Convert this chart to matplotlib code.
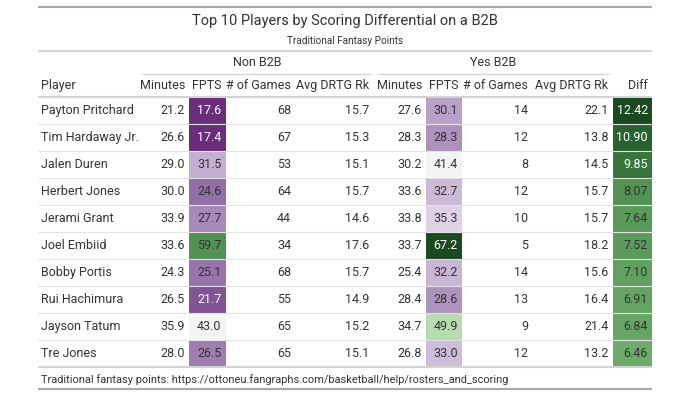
import numpy as np
import matplotlib
matplotlib.use("Agg")
import matplotlib.pyplot as plt
from matplotlib.patches import Rectangle
from matplotlib.colors import TwoSlopeNorm, Normalize, LinearSegmentedColormap, to_rgb

plt.rcParams['font.family'] = ['Roboto', 'DejaVu Sans']

players = ["Payton Pritchard", "Tim Hardaway Jr.", "Jalen Duren", "Herbert Jones", "Jerami Grant",
           "Joel Embiid", "Bobby Portis", "Rui Hachimura", "Jayson Tatum", "Tre Jones"]
non_minutes = [21.2, 26.6, 29.0, 30.0, 33.9, 33.6, 24.3, 26.5, 35.9, 28.0]
non_fpts = [17.6, 17.4, 31.5, 24.6, 27.7, 59.7, 25.1, 21.7, 43.0, 26.5]
non_games = [68, 67, 53, 64, 44, 34, 68, 55, 65, 65]
non_drtg = [15.7, 15.3, 15.1, 15.7, 14.6, 17.6, 15.7, 14.9, 15.2, 15.1]
yes_minutes = [27.6, 28.3, 30.2, 33.6, 33.8, 33.7, 25.4, 28.4, 34.7, 26.8]
yes_fpts = [30.1, 28.3, 41.4, 32.7, 35.3, 67.2, 32.2, 28.6, 49.9, 33.0]
yes_games = [14, 12, 8, 12, 10, 5, 14, 13, 9, 12]
yes_drtg = [22.1, 13.8, 14.5, 15.7, 15.7, 18.2, 15.6, 16.4, 21.4, 13.2]
diff = [12.42, 10.90, 9.85, 8.07, 7.64, 7.52, 7.10, 6.91, 6.84, 6.46]

headers = ["Player", "Minutes", "FPTS", "# of Games", "Avg DRTG Rk",
           "Minutes", "FPTS", "# of Games", "Avg DRTG Rk", "Diff"]

title = "Top 10 Players by Scoring Differential on a B2B"
subtitle = "Traditional Fantasy Points"
footer = "Traditional fantasy points: https://ottoneu.fangraphs.com/basketball/help/rosters_and_scoring"

# muted purple-green diverging palette
cmap = LinearSegmentedColormap.from_list("prgn_muted", [
    (0.0, "#4a1858"), (0.1, "#6b2c7c"), (0.2, "#8c66a2"), (0.3, "#b9a0c7"),
    (0.4, "#e4d9ea"), (0.5, "#f7f7f7"), (0.6, "#d4ecd0"), (0.7, "#9fcf98"),
    (0.8, "#68a866"), (0.9, "#3a7a3e"), (1.0, "#1a4a1f")])
fpts_norm = TwoSlopeNorm(vmin=11.2, vcenter=42.3, vmax=67.2)
diff_norm = Normalize(vmin=-15.96, vmax=12.42)

# column layout in pixels
edges = [38, 140, 189, 225.5, 295, 373, 426, 462, 532, 612.5, 652]
x0, x1 = edges[0], edges[-1]
row_top = 97
row_h = 27
n = len(players)
txt = "#333333"


def text_color(c):
    r, g, b = [v / 12.92 if v <= 0.04045 else ((v + 0.055) / 1.055) ** 2.4 for v in to_rgb(c)]
    lum = 0.2126 * r + 0.7152 * g + 0.0722 * b
    return "white" if lum < 0.179 else txt


fig = plt.figure(figsize=(6.9, 4.07), dpi=100)
ax = fig.add_axes([0, 0, 1, 1])
ax.set_xlim(0, 690)
ax.set_ylim(407, 0)
ax.axis("off")

fs = 9.0
ax.text((x0 + x1) / 2, 21, title, ha="center", va="center", fontsize=10.5, color=txt)
ax.text((x0 + x1) / 2, 40.5, subtitle, ha="center", va="center", fontsize=7.2, color=txt)

ax.hlines(7, x0, x1, color="#a8a8a8", lw=1.5)
ax.hlines(50.5, x0, x1, color="#d3d3d3", lw=1.5)

# spanners
ax.text(257, 62.5, "Non B2B", ha="center", va="center", fontsize=fs, color=txt)
ax.text(493.5, 62.5, "Yes B2B", ha="center", va="center", fontsize=fs, color=txt)
ax.hlines(73.5, 142, 372, color="#d3d3d3", lw=0.9)
ax.hlines(73.5, 378, 609, color="#d3d3d3", lw=0.9)

# column headers
for j, h in enumerate(headers):
    if j == 0:
        ax.text(edges[0] + 3, 85.5, h, ha="left", va="center", fontsize=fs, color=txt)
    else:
        ax.text(edges[j + 1] - 4, 85.5, h, ha="right", va="center", fontsize=fs, color=txt)

cols = [non_minutes, non_fpts, non_games, non_drtg, yes_minutes, yes_fpts, yes_games, yes_drtg, diff]
fmts = ["{:.1f}", "{:.1f}", "{:d}", "{:.1f}", "{:.1f}", "{:.1f}", "{:d}", "{:.1f}", "{:.2f}"]

for i in range(n):
    yt = row_top + i * row_h
    yc = yt + row_h / 2
    ax.text(edges[0] + 3, yc, players[i], ha="left", va="center", fontsize=fs, color=txt)
    for j, (vals, f) in enumerate(zip(cols, fmts)):
        v = vals[i]
        color = txt
        if j in (1, 5):
            bg = cmap(fpts_norm(v))
        elif j == 8:
            bg = cmap(diff_norm(v))
        else:
            bg = None
        if bg is not None:
            ax.add_patch(Rectangle((edges[j + 1], yt), edges[j + 2] - edges[j + 1], row_h,
                                   facecolor=bg, edgecolor="none", zorder=1))
            color = text_color(bg)
        ax.text(edges[j + 2] - 4, yc, f.format(v), ha="right", va="center", fontsize=fs,
                color=color, zorder=3)
    if i > 0:
        ax.hlines(yt, x0, x1, color="#e3e3e3", lw=0.8, zorder=2)

ax.hlines(row_top, x0, x1, color="#d3d3d3", lw=1.5, zorder=2)
ax.hlines(row_top + n * row_h, x0, x1, color="#d3d3d3", lw=1.5, zorder=2)

ax.text(edges[0] + 3, 379.5, footer, ha="left", va="center", fontsize=7.9, color=txt)
ax.hlines(389, x0, x1, color="#a8a8a8", lw=1.5)

fig.savefig("out.png", dpi=100, facecolor="white")
